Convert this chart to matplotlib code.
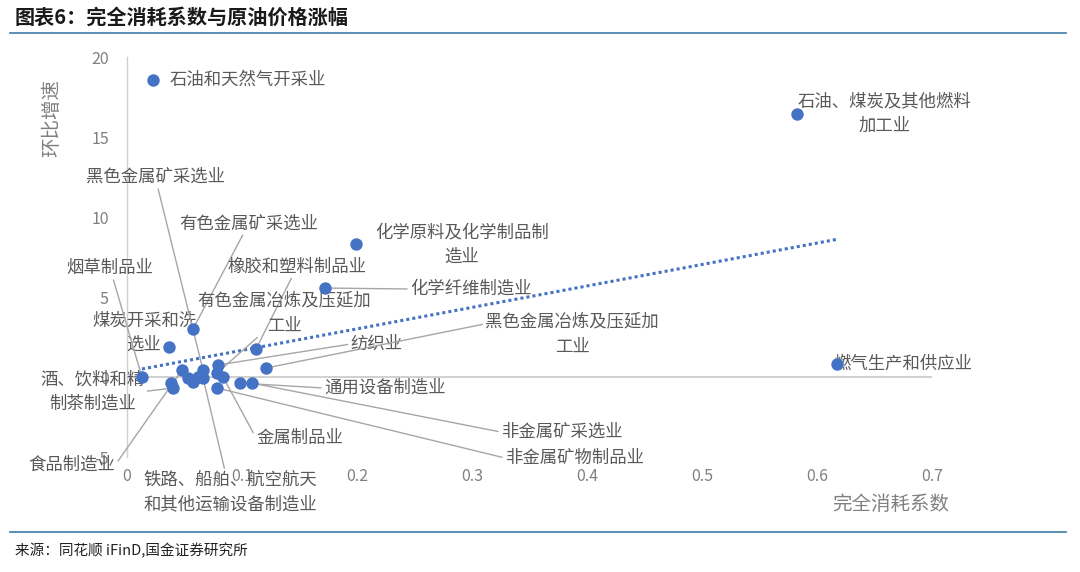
import numpy as np
import matplotlib.pyplot as plt
from matplotlib.lines import Line2D

plt.rcParams['font.family'] = ['Noto Sans CJK SC', 'DejaVu Sans']
plt.rcParams['axes.unicode_minus'] = False

# industry labels as shown on the chart ('' = point without a label)
labels = [
    '石油和天然气开采业', '石油、煤炭及其他燃料\n加工业', '化学原料及化学制品制\n造业',
    '化学纤维制造业', '燃气生产和供应业', '有色金属矿采选业', '煤炭开采和洗\n选业',
    '橡胶和塑料制品业', '有色金属冶炼及压延加\n工业', '纺织业', '黑色金属冶炼及压延加\n工业',
    '通用设备制造业', '非金属矿采选业', '非金属矿物制品业', '金属制品业',
    '铁路、船舶、航空航天\n和其他运输设备制造业', '黑色金属矿采选业', '酒、饮料和精\n制茶制造业',
    '食品制造业', '烟草制品业', '', '', '', '',
]
# complete consumption coefficient (x) and month-on-month growth (y)
coef = [0.0226, 0.5826, 0.1991, 0.1722, 0.6174, 0.0574, 0.0365, 0.1122, 0.0783, 0.0791,
        0.1209, 0.0983, 0.1087, 0.0783, 0.0835, 0.0661, 0.0661, 0.0400, 0.0478, 0.0130,
        0.0383, 0.0530, 0.0574, 0.0617]
growth = [18.56, 16.44, 8.31, 5.56, 0.81, 3.00, 1.88, 1.75, 0.25, 0.75,
          0.56, -0.38, -0.38, -0.69, 0.00, -0.06, 0.44, -0.69, 0.44, 0.00,
          -0.38, -0.06, -0.31, 0.00]
# linear trendline as drawn on the chart
trend_x = [0.013, 0.617]
trend_y = [0.50, 8.60]

xticks = [0, 0.1, 0.2, 0.3, 0.4, 0.5, 0.6, 0.7]
xticklabels = ['0', '0.1', '0.2', '0.3', '0.4', '0.5', '0.6', '0.7']
yticks = [-5, 0, 5, 10, 15, 20]

# label placement (data coords), alignment, leader attach point (None = no leader)
label_layout = {
    '石油和天然气开采业': (0.0374, 18.56, 'left', None),
    '石油、煤炭及其他燃料\n加工业': (0.659, 16.47, 'center', None),
    '化学原料及化学制品制\n造业': (0.291, 8.28, 'center', None),
    '化学纤维制造业': (0.246, 5.50, 'left', (0, 0.5)),
    '燃气生产和供应业': (0.614, 0.81, 'left', None),
    '黑色金属矿采选业': (0.0245, 12.5, 'center', (0.5, 0.5)),
    '有色金属矿采选业': (0.106, 9.6, 'center', (0.5, 0.5)),
    '烟草制品业': (-0.0148, 6.8, 'center', (0.5, 0.5)),
    '橡胶和塑料制品业': (0.148, 6.9, 'center', (0.5, 0.5)),
    '有色金属冶炼及压延加\n工业': (0.137, 3.97, 'center', (0.5, 0.5)),
    '煤炭开采和洗\n选业': (0.0148, 2.78, 'center', None),
    '纺织业': (0.217, 2.06, 'center', (0, 0.5)),
    '黑色金属冶炼及压延加\n工业': (0.387, 2.66, 'center', (0, 0.75)),
    '酒、饮料和精\n制茶制造业': (-0.030, -0.9, 'center', (1, 0.5)),
    '通用设备制造业': (0.224, -0.69, 'center', (0, 0.5)),
    '金属制品业': (0.150, -3.81, 'center', (0, 0.5)),
    '非金属矿采选业': (0.378, -3.44, 'center', (0, 0.5)),
    '非金属矿物制品业': (0.389, -5.06, 'center', (0, 0.5)),
    '食品制造业': (-0.048, -5.5, 'center', (1, 0.5)),
    '铁路、船舶、航空航天\n和其他运输设备制造业': (0.0896, -7.2, 'center', (0.5, 0.5)),
}

blue = '#4472C4'
grey_txt = '#595959'
grey_line = '#A6A6A6'
rule = '#3E7CA6'

fig = plt.figure(figsize=(10.8, 5.72), dpi=100)
ax = fig.add_axes([127 / 1080, 1 - 457 / 572, 805 / 1080, 400 / 572])
ax.set_xlim(0, 0.7)
ax.set_ylim(-5, 20)

for s in ['top', 'right', 'bottom']:
    ax.spines[s].set_visible(False)
ax.spines['left'].set_color('#D0D0D0')
ax.spines['left'].set_linewidth(1.0)
ax.axhline(0, color='#C8C8C8', lw=1.2, zorder=1)

ax.set_xticks(xticks)
ax.set_xticklabels(xticklabels)
ax.set_yticks(yticks)
ax.tick_params(axis='both', length=0, labelsize=11.5, labelcolor='#808080')
ax.tick_params(axis='x', pad=8)
ax.tick_params(axis='y', pad=13)

ax.plot(trend_x, trend_y, color=blue, lw=2.2, linestyle=(0, (1, 1)), zorder=2)
ax.scatter(coef, growth, s=80, color=blue, zorder=4, linewidths=0)

for name, x, y in zip(labels, coef, growth):
    if not name:
        continue
    lx, ly, ha, rel = label_layout[name]
    arrow = None
    if rel is not None:
        arrow = dict(arrowstyle='-', color=grey_line, lw=1.0, shrinkA=0, shrinkB=0,
                     relpos=rel)
    ax.annotate(name, xy=(x, y), xytext=(lx, ly), textcoords='data',
                ha=ha, va='center', multialignment='center', linespacing=1.45,
                fontsize=12.5, color=grey_txt, arrowprops=arrow,
                annotation_clip=False, zorder=3)

fig.text(52 / 1080, 1 - 118 / 572, '环比增速', rotation=90, ha='center', va='center',
         fontsize=14, color='#808080')
fig.text(891 / 1080, 1 - 505 / 572, '完全消耗系数', ha='center', va='center',
         fontsize=14, color='#808080')

fig.text(15 / 1080, 1 - 17 / 572, '图表6：完全消耗系数与原油价格涨幅', ha='left', va='center',
         fontsize=14.5, fontweight='bold', color='#1A1A1A')
fig.text(15 / 1080, 1 - 551 / 572, '来源：同花顺 iFinD,国金证券研究所', ha='left', va='center',
         fontsize=10.5, color='#222222')

fig.add_artist(Line2D([10 / 1080, 1066 / 1080], [1 - 33 / 572, 1 - 33 / 572], color=rule, lw=1.2))
fig.add_artist(Line2D([10 / 1080, 1066 / 1080], [1 - 532 / 572, 1 - 532 / 572], color=rule, lw=1.2))

fig.savefig('out.png', dpi=100)
